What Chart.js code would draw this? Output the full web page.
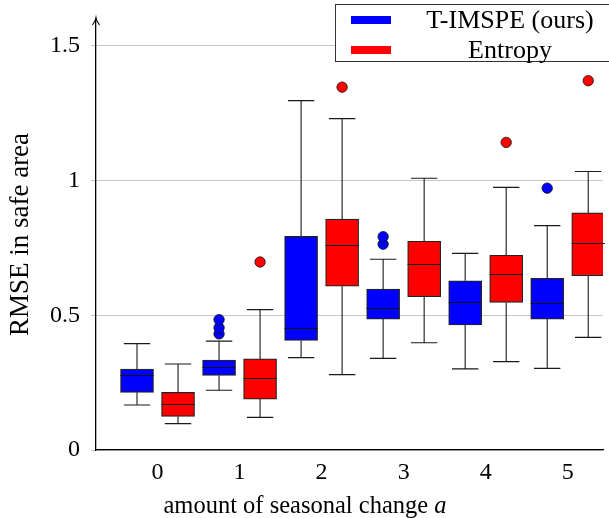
<!DOCTYPE html>
<html>
<head>
<meta charset="utf-8">
<script src="https://cdn.jsdelivr.net/npm/chart.js@4/dist/chart.umd.min.js"></script>
<style>
  html, body { margin: 0; padding: 0; background: #fff; overflow: hidden; }
  #wrap { width: 609px; height: 518px; }
</style>
</head>
<body>
<div id="wrap"><canvas id="chart" width="609" height="518"></canvas></div>
<script>
// categories on the x axis (amount of seasonal change a)
var categories = [0, 1, 2, 3, 4, 5];
var yTicks = [0, 0.5, 1, 1.5];

// T-IMSPE (ours) box stats
var timspeLow = [0.167, 0.222, 0.343, 0.340, 0.301, 0.303];
var timspeQ1 = [0.214, 0.277, 0.407, 0.486, 0.464, 0.486];
var timspeMed = [0.277, 0.307, 0.452, 0.526, 0.548, 0.546];
var timspeQ3 = [0.300, 0.334, 0.793, 0.597, 0.628, 0.637];
var timspeHigh = [0.395, 0.404, 1.297, 0.708, 0.730, 0.833];
var timspeOut = [[], [0.431, 0.454, 0.484], [], [0.764, 0.792], [], [0.972]];

// Entropy box stats
var entropyLow = [0.098, 0.121, 0.280, 0.398, 0.328, 0.418];
var entropyQ1 = [0.125, 0.189, 0.608, 0.569, 0.548, 0.647];
var entropyMed = [0.170, 0.267, 0.761, 0.692, 0.654, 0.767];
var entropyQ3 = [0.214, 0.338, 0.857, 0.775, 0.723, 0.880];
var entropyHigh = [0.319, 0.521, 1.230, 1.009, 0.975, 1.034];
var entropyOut = [[], [0.698], [1.347], [], [1.142], [1.371]];

var shift = 0.25;

function boxData(q1, q3, dx) {
  return categories.map(function (c, i) { return { x: c + dx, y: [q1[i], q3[i]] }; });
}
function outData(out, dx) {
  var pts = [];
  categories.forEach(function (c, i) {
    out[i].forEach(function (v) { pts.push({ x: c + dx, y: v }); });
  });
  return pts;
}

// whiskers behind the boxes, medians on top
var boxPlugin = {
  id: 'boxWhiskers',
  beforeDatasetsDraw: function (chart) {
    var ctx = chart.ctx, y = chart.scales.y;
    chart.data.datasets.forEach(function (ds, di) {
      if (!ds.stats) return;
      var meta = chart.getDatasetMeta(di);
      meta.data.forEach(function (el, i) {
        var cap = el.width * 0.8 / 2;
        ctx.save();
        ctx.strokeStyle = '#1a1a1a';
        ctx.lineWidth = 1.1;
        ctx.beginPath();
        ctx.moveTo(el.x, y.getPixelForValue(ds.stats.q3[i]));
        ctx.lineTo(el.x, y.getPixelForValue(ds.stats.high[i]));
        ctx.moveTo(el.x - cap, y.getPixelForValue(ds.stats.high[i]));
        ctx.lineTo(el.x + cap, y.getPixelForValue(ds.stats.high[i]));
        ctx.moveTo(el.x, y.getPixelForValue(ds.stats.q1[i]));
        ctx.lineTo(el.x, y.getPixelForValue(ds.stats.low[i]));
        ctx.moveTo(el.x - cap, y.getPixelForValue(ds.stats.low[i]));
        ctx.lineTo(el.x + cap, y.getPixelForValue(ds.stats.low[i]));
        ctx.stroke();
        ctx.restore();
      });
    });
  },
  afterDatasetsDraw: function (chart) {
    var ctx = chart.ctx, y = chart.scales.y;
    chart.data.datasets.forEach(function (ds, di) {
      if (!ds.stats) return;
      var meta = chart.getDatasetMeta(di);
      meta.data.forEach(function (el, i) {
        var py = Math.round(y.getPixelForValue(ds.stats.med[i])) + 0.5;
        ctx.save();
        ctx.strokeStyle = '#111';
        ctx.lineWidth = 1.1;
        ctx.beginPath();
        ctx.moveTo(el.x - el.width / 2, py);
        ctx.lineTo(el.x + el.width / 2, py);
        ctx.stroke();
        ctx.restore();
      });
    });
  },
  afterDraw: function (chart) {
    var ctx = chart.ctx, a = chart.chartArea;
    // arrow head on the y axis
    ctx.save();
    ctx.strokeStyle = '#000';
    ctx.lineWidth = 1.2;
    ctx.beginPath();
    ctx.moveTo(a.left - 3.5, a.top + 6);
    ctx.quadraticCurveTo(a.left - 0.5, a.top + 2, a.left, a.top - 1);
    ctx.quadraticCurveTo(a.left + 0.5, a.top + 2, a.left + 3.5, a.top + 6);
    ctx.stroke();
    ctx.restore();

    // x axis title with italic a
    ctx.save();
    ctx.fillStyle = '#000';
    ctx.textBaseline = 'alphabetic';
    var t1 = 'amount of seasonal change ', t2 = 'a';
    ctx.font = "24.5px 'Liberation Serif', serif";
    var w1 = ctx.measureText(t1).width;
    ctx.font = "italic 24.5px 'Liberation Serif', serif";
    var w2 = ctx.measureText(t2).width;
    var x0 = 305 - (w1 + w2) / 2;
    ctx.font = "24.5px 'Liberation Serif', serif";
    ctx.fillText(t1, x0, 512.5);
    ctx.font = "italic 24.5px 'Liberation Serif', serif";
    ctx.fillText(t2, x0 + w1, 512.5);
    ctx.restore();

    // legend box
    var boxes = chart.data.datasets.filter(function (d) { return d.stats; });
    ctx.save();
    ctx.fillStyle = '#fff';
    ctx.strokeStyle = '#333';
    ctx.lineWidth = 1;
    ctx.fillRect(335, 4.5, 290, 57);
    ctx.strokeRect(335.5, 4.5, 290, 57);
    ctx.font = "26px 'Liberation Serif', serif";
    ctx.textAlign = 'center';
    ctx.textBaseline = 'middle';
    boxes.forEach(function (d, k) {
      var cy = 20 + k * 30;
      ctx.fillStyle = d.backgroundColor;
      ctx.fillRect(351, cy - 4, 40, 8);
      ctx.fillStyle = '#000';
      ctx.fillText(d.label, 510, cy + 1);
    });
    ctx.restore();
  }
};

new Chart(document.getElementById('chart'), {
  type: 'bar',
  data: {
    datasets: [
      {
        label: 'T-IMSPE (ours)',
        data: boxData(timspeQ1, timspeQ3, -shift),
        backgroundColor: '#0000ff',
        borderColor: '#222',
        borderWidth: 1.2,
        borderSkipped: false,
        barThickness: 33,
        grouped: false,
        stats: { low: timspeLow, q1: timspeQ1, med: timspeMed, q3: timspeQ3, high: timspeHigh }
      },
      {
        label: 'Entropy',
        data: boxData(entropyQ1, entropyQ3, shift),
        backgroundColor: '#ff0000',
        borderColor: '#222',
        borderWidth: 1.2,
        borderSkipped: false,
        barThickness: 33,
        grouped: false,
        stats: { low: entropyLow, q1: entropyQ1, med: entropyMed, q3: entropyQ3, high: entropyHigh }
      },
      {
        type: 'scatter',
        label: 'T-IMSPE outliers',
        data: outData(timspeOut, -shift),
        backgroundColor: '#0000ff',
        borderColor: '#111',
        borderWidth: 0.8,
        pointRadius: 5.2
      },
      {
        type: 'scatter',
        label: 'Entropy outliers',
        data: outData(entropyOut, shift),
        backgroundColor: '#ff0000',
        borderColor: '#111',
        borderWidth: 0.8,
        pointRadius: 5.2
      }
    ]
  },
  options: {
    responsive: false,
    animation: false,
    layout: { padding: { top: 19, right: 0, bottom: 0, left: 0 } },
    font: { family: "'Liberation Serif', serif" },
    plugins: {
      legend: { display: false },
      tooltip: { enabled: false }
    },
    scales: {
      x: {
        type: 'linear',
        offset: false,
        min: -0.75,
        max: 5.43,
        afterBuildTicks: function (s) { s.ticks = categories.map(function (v) { return { value: v }; }); },
        afterFit: function (s) { s.height = 68; s.paddingLeft = 0; s.paddingRight = 0; },
        grid: { display: false, drawTicks: false, offset: false },
        border: { display: true, color: '#000', width: 1.3 },
        ticks: {
          color: '#000',
          padding: 8,
          maxRotation: 0,
          font: { family: "'Liberation Serif', serif", size: 24 }
        }
      },
      y: {
        type: 'linear',
        min: 0,
        max: 1.6,
        afterBuildTicks: function (s) { s.ticks = yTicks.map(function (v) { return { value: v }; }); },
        afterFit: function (s) { s.width = 96; s.paddingTop = 0; s.paddingBottom = 0; },
        grid: { color: 'rgba(0,0,0,0.22)', lineWidth: 1, drawTicks: true, tickLength: 5 },
        border: { display: true, color: '#000', width: 1.3 },
        ticks: {
          color: '#000',
          padding: 11,
          font: { family: "'Liberation Serif', serif", size: 24 },
          callback: function (v) { return String(v); }
        },
        title: {
          display: true,
          text: 'RMSE in safe area',
          color: '#000',
          font: { family: "'Liberation Serif', serif", size: 27 },
          padding: { top: 5, bottom: 0 }
        }
      }
    }
  },
  plugins: [boxPlugin]
});
</script>
</body>
</html>
